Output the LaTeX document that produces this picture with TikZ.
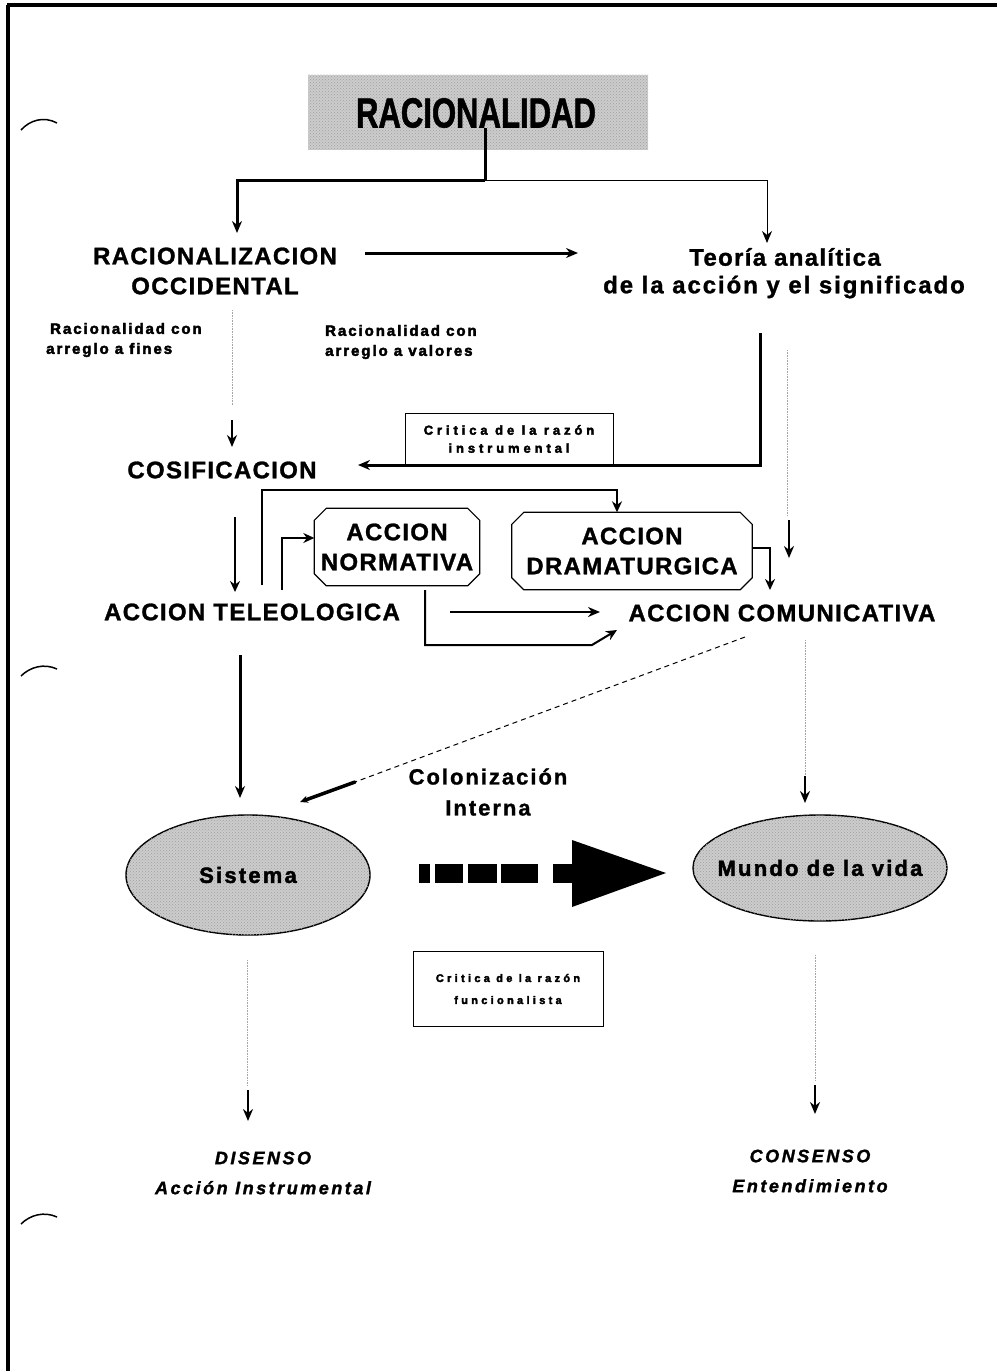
\documentclass[tikz,border=0pt]{standalone}
\usepackage{fontspec}
\setmainfont{Liberation Sans}[BoldFeatures={FakeBold=1.5}]
\newfontfamily\bigf[LetterSpace=5.5,BoldFeatures={FakeBold=1.2}]{Liberation Sans}
\newfontfamily\wbigf[LetterSpace=8,BoldFeatures={FakeBold=1.2}]{Liberation Sans}
\newfontfamily\smallf[LetterSpace=13,BoldFeatures={FakeBold=3}]{Liberation Sans}
\newfontfamily\tinyf[LetterSpace=30,BoldFeatures={FakeBold=3}]{Liberation Sans}
\newfontfamily\midf[LetterSpace=9,BoldFeatures={FakeBold=1.2}]{Liberation Sans}
\newfontfamily\ellf[LetterSpace=10,BoldFeatures={FakeBold=2}]{Liberation Sans}
\newfontfamily\itf[LetterSpace=14,BoldFeatures={FakeBold=1.5},BoldItalicFeatures={FakeBold=1.5}]{Liberation Sans}
\usetikzlibrary{arrows.meta,shapes.geometric,patterns}
\begin{document}
\begin{tikzpicture}[x=1pt,y=-1pt,
  big/.style={font=\bigf\bfseries\fontsize{24}{30}\selectfont,align=center,inner sep=0pt},
  wbig/.style={font=\wbigf\bfseries\fontsize{24}{30}\selectfont,align=center,inner sep=0pt},
  small/.style={font=\smallf\bfseries\fontsize{15}{20}\selectfont,align=left,inner sep=0pt},
  tiny/.style={font=\tinyf\bfseries\fontsize{13}{18}\selectfont,align=center,inner sep=0pt},
  tinier/.style={font=\tinyf\bfseries\fontsize{11}{22}\selectfont,align=center,inner sep=0pt},
  colf/.style={font=\midf\bfseries\fontsize{22}{31}\selectfont,align=center,inner sep=0pt},
  ellt/.style={font=\ellf\bfseries\fontsize{22}{26}\selectfont,inner sep=0pt},
  itt/.style={font=\itf\bfseries\itshape\fontsize{18}{30}\selectfont,align=center,inner sep=0pt},
  thk/.style={line width=3pt,-{Stealth[length=12pt,width=10pt]}},
  med/.style={line width=2pt,-{Stealth[length=11pt,width=10pt]}},
  thn/.style={line width=0.9pt},
  dotl/.style={line width=0.6pt,gray!70,densely dotted},
  gfill/.style={fill=gray!40,postaction={pattern=crosshatch dots,pattern color=gray!75}},
  ell/.style={ellipse,draw,line width=1.4pt,gfill,inner sep=0pt},
  rbox/.style={draw,line width=1pt,inner sep=0pt,fill=white}]
\useasboundingbox (0,0) rectangle (997,1371);
\fill[white] (0,0) rectangle (997,1371);
% page border and marks
\draw[line width=3.5pt] (7,5) -- (997,5);
\draw[line width=3.5pt] (8,5) -- (8,1371);
\draw[line width=1.5pt] (21,130) .. controls (30,120) and (44,116) .. (57,123);
\draw[line width=1.5pt] (21,676) .. controls (30,667) and (44,663) .. (57,669);
\draw[line width=1.5pt] (21,1224) .. controls (30,1215) and (44,1211) .. (57,1217);

% title
\node[gfill,minimum width=340pt,minimum height=75pt,inner sep=0pt] (rbx) at (478,112) {};
\node[font=\bfseries\fontsize{42}{42}\selectfont,inner sep=0pt] (rac) at (476,113) {\scalebox{0.74}[1]{RACIONALIDAD}};

% text nodes
\node[big] (roc1) at (215,256) {RACIONALIZACION};
\node[big] (roc2) at (215,286) {OCCIDENTAL};
\node[big] (teo1) at (785,257) {Teoría analítica};
\node[wbig] (teo2) at (784,287) {de la acción y el significado};
\node[small,anchor=west] (rf) at (46,340) {\hspace*{4pt}Racionalidad con\\arreglo a fines};
\node[small,anchor=west] (rv) at (325,342) {Racionalidad con\\arreglo a valores};
\node[big] (cos) at (222,470) {COSIFICACION};
\node[big] (tel) at (252,612) {ACCION TELEOLOGICA};
\node[big] (com) at (782,613) {ACCION COMUNICATIVA};
\node[colf] (col) at (488,792) {Colonización\\Interna};
\node[itt] (dis) at (263,1173) {DISENSO\\Acción Instrumental};
\node[itt] (con) at (810,1171) {CONSENSO\\Entendimiento};

% octagonal boxes
\node[minimum width=165pt,minimum height=77pt,inner sep=0pt] (norm) at (397,547) {};
\node[big] at (norm) {ACCION\\NORMATIVA};
\draw[line width=1.2pt] ([xshift=12pt]norm.north west) -- ([xshift=-12pt]norm.north east)
  -- ([yshift=-12pt]norm.north east) -- ([yshift=12pt]norm.south east)
  -- ([xshift=-12pt]norm.south east) -- ([xshift=12pt]norm.south west)
  -- ([yshift=12pt]norm.south west) -- ([yshift=-12pt]norm.north west) -- cycle;
\node[minimum width=240pt,minimum height=77pt,inner sep=0pt] (dram) at (632,551) {};
\node[big] at (dram) {ACCION\\DRAMATURGICA};
\draw[line width=1.2pt] ([xshift=12pt]dram.north west) -- ([xshift=-12pt]dram.north east)
  -- ([yshift=-12pt]dram.north east) -- ([yshift=12pt]dram.south east)
  -- ([xshift=-12pt]dram.south east) -- ([xshift=12pt]dram.south west)
  -- ([yshift=12pt]dram.south west) -- ([yshift=-12pt]dram.north west) -- cycle;

% ellipses
\node[ell,minimum width=244pt,minimum height=120pt] (sis) at (248,875) {};
\node[ellt] at (sis) {Sistema};
\node[ell,minimum width=254pt,minimum height=106pt] (mun) at (820,868) {};
\node[ellt] at (mun) {Mundo de la vida};

% coordinates
\coordinate (jn) at (485,180);
\coordinate (ja) at (237,180);
\coordinate (jb) at (767,180);

% top connectors
\draw[line width=3pt] (rac.south -| jn) -- (jn);
\draw[thk] (jn) -- (ja) -- (237,233);
\draw[thn,-{Stealth[length=12pt,width=10pt]}] (jn) -- (jb) -- (767,243);
\draw[thk] (365,253) -- (578,253);

% roc -> cos
\draw[dotl] (232,310) -- (232,405);
\draw[thk,line width=2.5pt] (232,420) -- (232,447);

% teo -> cos with box
\node[rbox,minimum width=208pt,minimum height=52pt,tiny] (crit1) at (509,439) {Critica de la razón\\instrumental};
\draw[line width=3pt,-{Stealth[length=12pt,width=10pt]}] (760,333) -- (760,465) -- (358,465);

% teo -> right dotted
\draw[dotl] (787,350) -- (787,515);
\draw[thk,line width=2.5pt] (789,520) -- (789,558);

% cos -> tel
\draw[med] (235,517) -- (235,592);
% tel -> dram
\draw[med] (262,585) -- (262,490) -- (617,490) -- (dram.north -| 617,0);
% tel -> norm
\draw[med] (282,590) -- (282,538) -- (norm.west |- 0,538);
% dram -> com
\draw[med] (dram.east |- 0,548) -- (770,548) -- (770,590);
% norm -> com
\draw[med] (425,590) -- (425,645) -- (592,645) -- (617,630);
% tel -> com
\draw[thk,line width=2.5pt] (450,612) -- (600,612);
% tel -> sis
\draw[thk] (240,655) -- (240,798);
% com -> sis dashed
\draw[line width=1pt,dash pattern=on 5pt off 4pt] (745,637) -- (355,782);
\draw[line width=3.5pt,line cap=round,-{Stealth[length=8pt,width=7pt]}] (355,782) -- (300,802);
% com -> mun
\draw[dotl] (805,640) -- (805,775);
\draw[thk,line width=2.5pt] (805,776) -- (805,803);

% big arrow sis -> mun
\fill (419,864) rectangle (430,883);
\fill (435,864) rectangle (463,883);
\fill (468,864) rectangle (497,883);
\fill (501,864) rectangle (538,883);
\fill (553,864) rectangle (574,883);
\fill (572,840) -- (666,873) -- (572,907) -- cycle;

% bottom
\node[rbox,minimum width=190pt,minimum height=75pt,tinier] (crit2) at (508,989) {Critica de la razón\\funcionalista};
\draw[dotl] (247,960) -- (247,1085);
\draw[thk,line width=2.5pt] (248,1090) -- (248,1121);
\draw[dotl] (815,955) -- (815,1080);
\draw[thk,line width=2.5pt] (815,1085) -- (815,1114);
\end{tikzpicture}
\end{document}
